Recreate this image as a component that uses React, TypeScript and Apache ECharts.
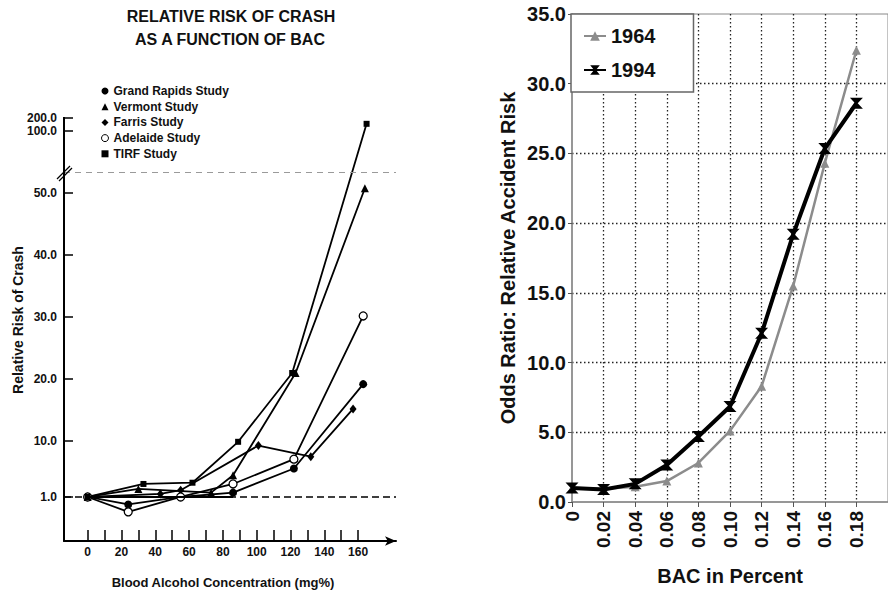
import React, { useEffect, useRef } from 'react';
import * as echarts from 'echarts';

// ---------- Left chart data ----------
const leftTitleLines = ['RELATIVE RISK OF CRASH', 'AS A FUNCTION OF BAC'];
const leftXName = 'Blood Alcohol Concentration (mg%)';
const leftYName = 'Relative Risk of Crash';
const studyNames = ['Grand Rapids Study', 'Vermont Study', 'Farris Study', 'Adelaide Study', 'TIRF Study'];

const grandRapidsX = [0, 24, 55, 86, 122, 163];
const grandRapidsY = [1.0, -0.2, 1.0, 1.7, 5.6, 19.2];
const vermontX = [0, 30, 73, 86, 123, 164];
const vermontY = [1.0, 2.3, 1.7, 4.5, 21.0, 50.8];
const farrisX = [0, 43, 55, 101, 132, 157];
const farrisY = [1.0, 1.5, 2.1, 9.3, 7.5, 15.2];
const adelaideX = [0, 24, 55, 86, 122, 163];
const adelaideY = [1.0, -1.4, 1.0, 3.1, 7.1, 30.2];
const tirfX = [0, 33, 62, 89, 121, 165];
const tirfY = [1.0, 3.1, 3.3, 9.9, 21.0, 160];

const leftYTicks = [1, 10, 20, 30, 40, 50, 100, 200];
const leftXTicks = [0, 10, 20, 30, 40, 50, 60, 70, 80, 90, 100, 110, 120, 130, 140, 150, 160];
const leftXLabels = [0, 20, 40, 60, 80, 100, 120, 140, 160];
const baselineRisk = 1.0;
const breakLevel = 53.3;

// ---------- Right chart data ----------
const rightXName = 'BAC in Percent';
const rightYName = 'Odds Ratio: Relative Accident Risk';
const yearNames = ['1964', '1994'];
const bacPercent = [0, 0.02, 0.04, 0.06, 0.08, 0.1, 0.12, 0.14, 0.16, 0.18];
const odds1964 = [1.0, 0.95, 1.1, 1.5, 2.8, 5.1, 8.3, 15.5, 24.3, 32.4];
const odds1994 = [1.0, 0.9, 1.3, 2.65, 4.7, 6.85, 12.1, 19.2, 25.35, 28.6];

const FONT = '"Liberation Sans", Arial, Helvetica, sans-serif';
const HOURGLASS = 'path://M0,0L10,0L6,5L10,10L0,10L4,5Z';

function zip(xs: number[], ys: number[]) {
  return xs.map((x, i) => [x, ys[i]]);
}

export default function App() {
  const ref = useRef<HTMLDivElement>(null);

  useEffect(() => {
    const chart = echarts.init(ref.current!, null, { renderer: 'svg' });

    const studyData = [
      zip(grandRapidsX, grandRapidsY),
      zip(vermontX, vermontY),
      zip(farrisX, farrisY),
      zip(adelaideX, adelaideY),
      zip(tirfX, tirfY),
    ];
    const studySymbols = ['circle', 'triangle', 'diamond', 'circle', 'rect'];
    const studySizes: any[] = [8, 8, [7, 9], 8, 6];

    const leftSeries: any[] = studyNames.map((name, i) => ({
      name,
      type: 'line',
      xAxisIndex: 0,
      yAxisIndex: 0,
      data: studyData[i],
      symbol: studySymbols[i],
      symbolSize: studySizes[i],
      showAllSymbol: true,
      lineStyle: { color: '#000', width: 1.8 },
      itemStyle:
        i === 3
          ? { color: '#fff', borderColor: '#000', borderWidth: 1.3 }
          : { color: '#000' },
      z: 3,
    }));

    leftSeries[0].markLine = {
      silent: true,
      symbol: ['none', 'none'],
      label: { show: false },
      animation: false,
      data: [
        { yAxis: breakLevel, lineStyle: { type: [6, 5], color: '#9a9a9a', width: 1 } },
        { yAxis: baselineRisk, lineStyle: { type: [7, 4], color: '#000', width: 1.5 } },
        [
          { coord: [0, baselineRisk], lineStyle: { type: 'solid', color: '#000', width: 1.8 } },
          { coord: [86, baselineRisk] },
        ],
      ],
    };

    const option: any = {
      animation: false,
      backgroundColor: '#fff',
      textStyle: { fontFamily: FONT },
      grid: [
        { left: 64, top: 118, width: 332, bottom: 50, containLabel: false },
        {
          left: 572,
          top: 14,
          right: -6,
          bottom: 89,
          containLabel: false,
          show: true,
          borderColor: '#888',
          borderWidth: 1,
          backgroundColor: 'transparent',
        },
      ],
      legend: [
        {
          data: studyNames.map((n, i) => ({
            name: n,
            icon: studySymbols[i],
            itemStyle:
              i === 3
                ? { color: '#fff', borderColor: '#000', borderWidth: 1 }
                : { color: '#000' },
          })),
          orient: 'vertical',
          left: 101,
          top: 84,
          padding: 0,
          itemWidth: 7,
          itemHeight: 7,
          itemGap: 1.7,
          selectedMode: false,
          textStyle: { fontFamily: FONT, fontSize: 12, fontWeight: 'bold', color: '#111', lineHeight: 14 },
        },
        {
          data: yearNames,
          orient: 'vertical',
          left: 571,
          top: 14,
          padding: [12, 38, 12, 12],
          itemGap: 14,
          itemWidth: 22,
          itemHeight: 12,
          backgroundColor: '#fff',
          borderColor: '#666',
          borderWidth: 1.5,
          selectedMode: false,
          z: 10,
          textStyle: { fontFamily: FONT, fontSize: 20, fontWeight: 'bold', color: '#111', lineHeight: 20 },
        },
      ],
      xAxis: [
        {
          type: 'value',
          gridIndex: 0,
          min: -14,
          max: 182.4,
          axisLine: {
            onZero: false,
            lineStyle: { color: '#000', width: 2 },
            symbol: ['none', 'arrow'],
            symbolSize: [7, 11],
          },
          axisTick: { show: true, inside: true, length: 11, customValues: leftXTicks, lineStyle: { color: '#000', width: 1.5 } },
          axisLabel: {
            customValues: leftXLabels,
            margin: 5,
            fontFamily: FONT,
            fontSize: 12,
            fontWeight: 'bold',
            color: '#111',
            formatter: (v: number) => String(Math.round(v)),
          },
          splitLine: { show: false },
        },
        {
          type: 'value',
          gridIndex: 1,
          min: 0,
          max: 0.2,
          interval: 0.02,
          name: rightXName,
          nameLocation: 'middle',
          nameGap: 64,
          nameTextStyle: { fontFamily: FONT, fontSize: 20, fontWeight: 'bold', color: '#111' },
          axisLine: { onZero: false, lineStyle: { color: '#888', width: 1.5 } },
          axisTick: { show: true, length: 5, lineStyle: { color: '#555' } },
          axisLabel: {
            rotate: 90,
            margin: 9,
            fontFamily: FONT,
            fontSize: 19,
            fontWeight: 'bold',
            color: '#111',
            showMaxLabel: false,
            formatter: (v: number) => (v === 0 ? '0' : v.toFixed(2)),
          },
          splitLine: {
            show: true,
            showMinLine: false,
            showMaxLine: false,
            lineStyle: { type: [1.5, 2.5], color: '#222', width: 1.3 },
          },
        },
      ],
      yAxis: [
        {
          type: 'value',
          gridIndex: 0,
          min: -6.1,
          max: 200,
          breaks: [
            { start: breakLevel, end: 99.5, gap: 6.23 },
            { start: 100.5, end: 199.5, gap: 1.1 },
          ],
          breakArea: { show: false },
          axisLine: { onZero: false, lineStyle: { color: '#000', width: 2 } },
          axisTick: { show: true, inside: true, length: 9, customValues: leftYTicks, lineStyle: { color: '#000', width: 1.5 } },
          axisLabel: {
            customValues: leftYTicks,
            margin: 7,
            fontFamily: FONT,
            fontSize: 12,
            fontWeight: 'bold',
            color: '#111',
            formatter: (v: number) => v.toFixed(1),
          },
          splitLine: { show: false },
        },
        {
          type: 'value',
          gridIndex: 1,
          min: 0,
          max: 35,
          interval: 5,
          name: rightYName,
          nameLocation: 'middle',
          nameGap: 54,
          nameTextStyle: { fontFamily: FONT, fontSize: 20, fontWeight: 'bold', color: '#111' },
          axisLine: { onZero: false, lineStyle: { color: '#888', width: 1.5 } },
          axisTick: { show: true, length: 4, lineStyle: { color: '#555' } },
          axisLabel: {
            margin: 6,
            fontFamily: FONT,
            fontSize: 20,
            fontWeight: 'bold',
            color: '#111',
            formatter: (v: number) => v.toFixed(1),
          },
          splitLine: {
            show: true,
            showMinLine: false,
            showMaxLine: false,
            lineStyle: { type: [1.5, 2.5], color: '#222', width: 1.3 },
          },
        },
      ],
      graphic: [
        {
          type: 'text',
          x: 231,
          y: 16,
          style: {
            text: leftTitleLines[0],
            font: `bold 16px ${FONT}`,
            fill: '#111',
            textAlign: 'center',
            textVerticalAlign: 'middle',
            verticalAlign: 'middle',
          },
        },
        {
          type: 'text',
          x: 230,
          y: 39,
          style: {
            text: leftTitleLines[1],
            font: `bold 16px ${FONT}`,
            fill: '#111',
            textAlign: 'center',
            textVerticalAlign: 'middle',
            verticalAlign: 'middle',
          },
        },
        {
          type: 'text',
          x: 18,
          y: 320,
          rotation: Math.PI / 2,
          style: {
            text: leftYName,
            font: `bold 14px ${FONT}`,
            fill: '#111',
            textAlign: 'center',
            textVerticalAlign: 'middle',
            verticalAlign: 'middle',
          },
        },
        {
          type: 'text',
          x: 223,
          y: 582,
          style: {
            text: leftXName,
            font: `bold 13px ${FONT}`,
            fill: '#111',
            textAlign: 'center',
            textVerticalAlign: 'middle',
            verticalAlign: 'middle',
          },
        },
        {
          type: 'line',
          shape: { x1: 64, y1: 117, x2: 64, y2: 180 },
          style: { stroke: '#000', lineWidth: 2 },
          z: 19,
        },
        {
          type: 'line',
          shape: { x1: 57, y1: 179, x2: 70, y2: 166 },
          style: { stroke: '#000', lineWidth: 1.3 },
          z: 20,
        },
        {
          type: 'line',
          shape: { x1: 59, y1: 181, x2: 72, y2: 168 },
          style: { stroke: '#000', lineWidth: 1.3 },
          z: 20,
        },
      ],
      series: [
        ...leftSeries,
        {
          name: yearNames[0],
          type: 'line',
          xAxisIndex: 1,
          yAxisIndex: 1,
          data: zip(bacPercent, odds1964),
          symbol: 'triangle',
          symbolSize: 9,
          lineStyle: { color: '#8c8c8c', width: 2.5 },
          itemStyle: { color: '#8c8c8c' },
          z: 3,
        },
        {
          name: yearNames[1],
          type: 'line',
          xAxisIndex: 1,
          yAxisIndex: 1,
          data: zip(bacPercent, odds1994),
          symbol: HOURGLASS,
          symbolSize: [13, 11],
          lineStyle: { color: '#000', width: 4 },
          itemStyle: { color: '#000' },
          z: 4,
        },
      ],
    };

    chart.setOption(option);
    return () => chart.dispose();
  }, []);

  return (
    <div
      ref={ref}
      style={{ position: 'fixed', left: 0, top: 0, width: 888, height: 591, background: '#fff' }}
    />
  );
}
